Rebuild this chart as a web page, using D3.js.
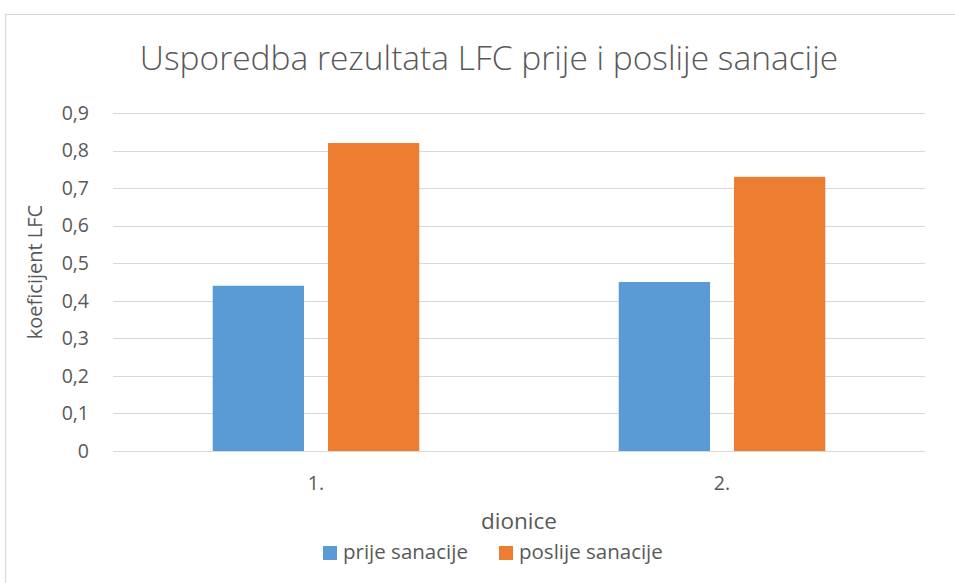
<!DOCTYPE html>
<html>
<head>
<meta charset="utf-8">
<script src="https://cdn.jsdelivr.net/npm/d3@7"></script>
<style>
  body { margin: 0; background: #fff; }
  svg { display: block; }
  text { font-family: 'Open Sans', 'Noto Sans', sans-serif; fill: #595959; }
</style>
</head>
<body>
<div id="chart"></div>
<script>
// ── Data ──
var categories = ['1.', '2.'];
var seriesNames = ['prije sanacije', 'poslije sanacije'];
var prijeValues = [0.44, 0.45];
var poslijeValues = [0.82, 0.73];
var yTicks = [0, 0.1, 0.2, 0.3, 0.4, 0.5, 0.6, 0.7, 0.8, 0.9];

var COLORS = ['#5b9bd5', '#ed7d31'];
var GRID = '#d9d9d9';
var W = 955, H = 583;
var M = { top: 113, right: 30, bottom: 132, left: 113 };

var svg = d3.select('#chart').append('svg')
  .attr('width', W).attr('height', H);

// chart border (Excel chart area)
svg.append('rect')
  .attr('x', 5.5).attr('y', 14.5)
  .attr('width', W + 10).attr('height', H + 10)
  .attr('fill', 'none').attr('stroke', GRID).attr('stroke-width', 1.2);

var plotW = W - M.left - M.right;
var plotH = H - M.top - M.bottom;

var g = svg.append('g').attr('transform', 'translate(' + M.left + ',' + M.top + ')');

var y = d3.scaleLinear().domain([0, 0.9]).range([plotH, 0]);
var x0 = d3.scaleBand().domain(categories).range([0, plotW]).padding(0);
var x1 = d3.scaleBand().domain(seriesNames).range([0, x0.bandwidth()])
  .paddingInner(0.208).paddingOuter(0.865);

// gridlines
g.append('g').selectAll('line')
  .data(yTicks)
  .join('line')
  .attr('x1', 0).attr('x2', plotW)
  .attr('y1', function (d) { return Math.round(y(d)) + 0.5; })
  .attr('y2', function (d) { return Math.round(y(d)) + 0.5; })
  .attr('stroke', GRID).attr('stroke-width', 1.2);

// y tick labels
var fmt = function (d) { return d === 0 ? '0' : d3.format('.1f')(d).replace('.', ','); };
g.append('g').selectAll('text')
  .data(yTicks)
  .join('text')
  .attr('x', -24)
  .attr('y', function (d) { return y(d); })
  .attr('dy', '0.35em')
  .attr('text-anchor', 'end')
  .attr('font-size', 19.5)
  .text(fmt);

// bars
var rows = categories.map(function (c, i) {
  return { cat: c, values: [prijeValues[i], poslijeValues[i]] };
});

var groups = g.append('g').selectAll('g')
  .data(rows)
  .join('g')
  .attr('transform', function (d) { return 'translate(' + x0(d.cat) + ',0)'; });

groups.selectAll('rect')
  .data(function (d) {
    return d.values.map(function (v, i) { return { name: seriesNames[i], value: v, i: i }; });
  })
  .join('rect')
  .attr('x', function (d) { return x1(d.name); })
  .attr('y', function (d) { return y(d.value); })
  .attr('width', x1.bandwidth())
  .attr('height', function (d) { return y(0) - y(d.value); })
  .attr('fill', function (d) { return COLORS[d.i]; });

// x labels
g.append('g').selectAll('text')
  .data(categories)
  .join('text')
  .attr('x', function (d) { return x0(d) + x0.bandwidth() / 2; })
  .attr('y', plotH + 39)
  .attr('text-anchor', 'middle')
  .attr('font-size', 19.5)
  .text(function (d) { return d; });

// title
svg.append('text')
  .attr('x', 489)
  .attr('y', 70)
  .attr('text-anchor', 'middle')
  .attr('font-size', 33.5)
  .attr('font-weight', 300)
  .text('Usporedba rezultata LFC prije i poslije sanacije');

// axis titles
svg.append('text')
  .attr('transform', 'translate(42,' + (M.top + plotH / 2 - 10) + ') rotate(-90)')
  .attr('text-anchor', 'middle')
  .attr('font-size', 20)
  .text('koeficijent LFC');

svg.append('text')
  .attr('x', M.left + plotW / 2)
  .attr('y', 529)
  .attr('text-anchor', 'middle')
  .attr('font-size', 22.5)
  .text('dionice');

// legend
var legendX = [323, 499];
var legend = svg.append('g').selectAll('g')
  .data(seriesNames)
  .join('g')
  .attr('transform', function (d, i) { return 'translate(' + legendX[i] + ',546)'; });

legend.append('rect')
  .attr('width', 14).attr('height', 14)
  .attr('fill', function (d, i) { return COLORS[i]; });

legend.append('text')
  .attr('x', 20).attr('y', 13)
  .attr('font-size', 20.5)
  .text(function (d) { return d; });
</script>
</body>
</html>
